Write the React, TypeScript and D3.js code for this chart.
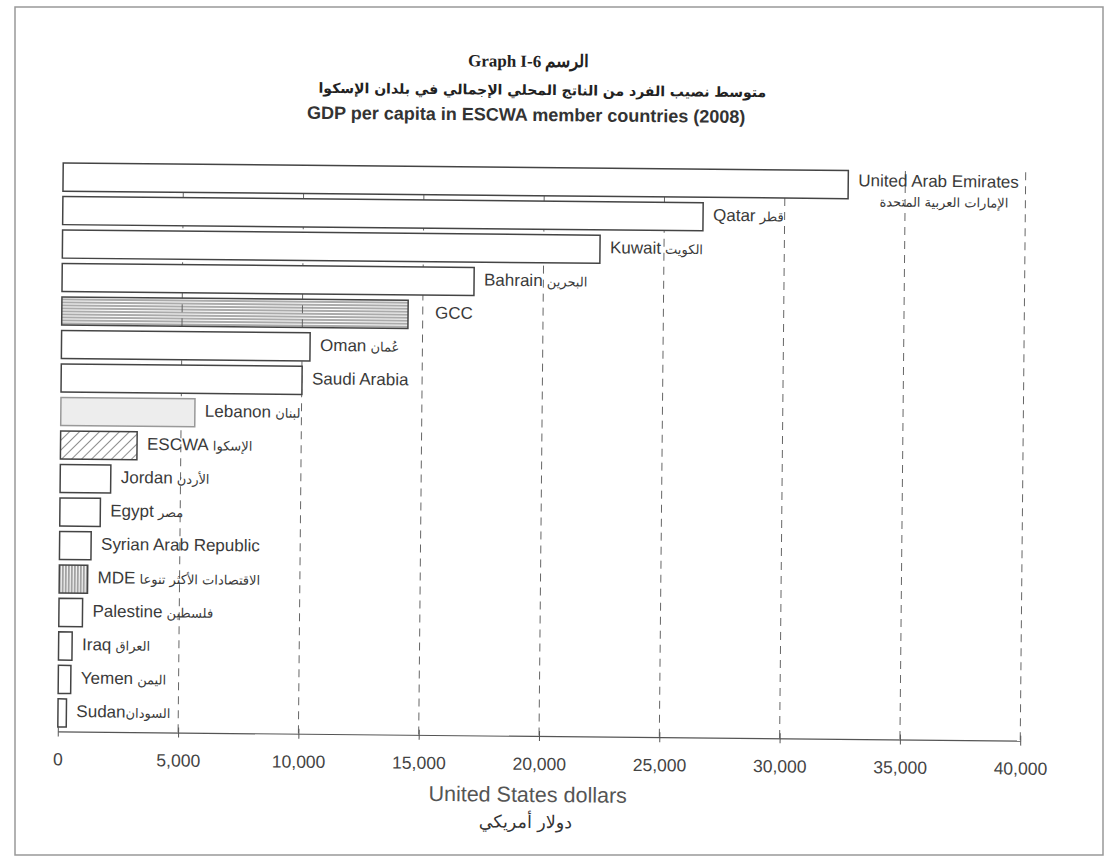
import React, { useEffect, useRef } from 'react';
import * as d3 from 'd3';

const countries = [
  'United Arab Emirates', 'Qatar', 'Kuwait', 'Bahrain', 'GCC', 'Oman', 'Saudi Arabia',
  'Lebanon', 'ESCWA', 'Jordan', 'Egypt', 'Syrian Arab Republic', 'MDE', 'Palestine',
  'Iraq', 'Yemen', 'Sudan',
];
const arabicNames = [
  'الإمارات العربية المتحدة', 'قطر', 'الكويت', 'البحرين', '', 'عُمان', '',
  'لبنان', 'الإسكوا', 'الأردن', 'مصر', '', 'الاقتصادات الأكثر تنوعا', 'فلسطين',
  'العراق', 'اليمن', 'السودان',
];
const gdpPerCapita = [
  32630, 26610, 22340, 17120, 14390, 10330, 10010,
  5570, 3180, 2100, 1680, 1310, 1180, 980,
  560, 520, 350,
];
const barPattern = [
  'none', 'none', 'none', 'none', 'horiz', 'none', 'none',
  'light', 'diag', 'none', 'none', 'none', 'vert', 'none',
  'none', 'none', 'none',
];
const xTicks = [0, 5000, 10000, 15000, 20000, 25000, 30000, 35000, 40000];

const W = 1106;
const H = 858;
const ink = '#3a3a3a';
const sans = '"Liberation Sans", Arial, sans-serif';
const arab = '"DejaVu Sans", "Noto Sans", sans-serif';

const App: React.FC = () => {
  const svgRef = useRef<SVGSVGElement | null>(null);

  useEffect(() => {
    if (!svgRef.current) return;
    const svg = d3.select(svgRef.current);
    svg.selectAll('*').remove();

    const margin = { top: 167.6, right: 83, bottom: 122, left: 60.5 };
    const axisY = H - margin.bottom;
    const x = d3.scaleLinear().domain([0, 40000]).range([margin.left, W - margin.right]);
    const y = d3.scaleBand<string>()
      .domain(countries)
      .range([margin.top, axisY - 4.4])
      .paddingInner(0.16)
      .paddingOuter(0);

    // patterns
    const defs = svg.append('defs');
    const horiz = defs.append('pattern').attr('id', 'p-horiz')
      .attr('patternUnits', 'userSpaceOnUse').attr('width', 6).attr('height', 3);
    horiz.append('line').attr('x1', 0).attr('x2', 6).attr('y1', 1).attr('y2', 1)
      .attr('stroke', '#555').attr('stroke-width', 1);
    const vert = defs.append('pattern').attr('id', 'p-vert')
      .attr('patternUnits', 'userSpaceOnUse').attr('width', 3).attr('height', 6);
    vert.append('line').attr('x1', 1).attr('x2', 1).attr('y1', 0).attr('y2', 6)
      .attr('stroke', '#444').attr('stroke-width', 1);
    const diag = defs.append('pattern').attr('id', 'p-diag')
      .attr('patternUnits', 'userSpaceOnUse').attr('width', 7).attr('height', 7)
      .attr('patternTransform', 'rotate(45)');
    diag.append('line').attr('x1', 0).attr('x2', 0).attr('y1', 0).attr('y2', 7)
      .attr('stroke', '#444').attr('stroke-width', 1.2);

    const fillFor = (p: string) => {
      if (p === 'horiz') return 'url(#p-horiz)';
      if (p === 'vert') return 'url(#p-vert)';
      if (p === 'diag') return 'url(#p-diag)';
      if (p === 'light') return '#ededed';
      return '#fff';
    };

    // page frame
    svg.append('rect').attr('x', 15).attr('y', 7).attr('width', 1088).attr('height', 848)
      .attr('fill', 'none').attr('stroke', '#999').attr('stroke-width', 1.5);

    // the scanned page is slightly tilted clockwise
    const page = svg.append('g').attr('transform', 'rotate(0.55, 540, 450)');

    // titles
    const title = page.append('g').attr('text-anchor', 'middle').attr('fill', '#222');
    title.append('text').attr('x', 525).attr('y', 67)
      .attr('font-family', '"Liberation Serif", "DejaVu Serif", serif')
      .attr('font-weight', 'bold').attr('font-size', 17)
      .text('Graph I-6 الرسم');
    title.append('text').attr('x', 539).attr('y', 95)
      .attr('font-family', arab)
      .attr('font-weight', 'bold').attr('font-size', 14)
      .text('متوسط نصيب الفرد من الناتج المحلي الإجمالي في بلدان الإسكوا');
    title.append('text').attr('x', 523).attr('y', 121)
      .attr('font-family', sans)
      .attr('font-weight', 'bold').attr('font-size', 18).attr('fill', '#333')
      .text('GDP per capita in ESCWA member countries (2008)');

    // dashed grid lines
    page.append('g').selectAll('line')
      .data(xTicks.filter(t => t > 0))
      .join('line')
      .attr('x1', d => x(d)).attr('x2', d => x(d))
      .attr('y1', margin.top).attr('y2', axisY)
      .attr('stroke', '#666').attr('stroke-width', 1).attr('stroke-dasharray', '8,6');

    // bars
    page.append('g').selectAll('rect')
      .data(countries)
      .join('rect')
      .attr('x', x(0))
      .attr('y', d => y(d)!)
      .attr('width', (_d, i) => x(gdpPerCapita[i]) - x(0))
      .attr('height', y.bandwidth())
      .attr('fill', (_d, i) => fillFor(barPattern[i]))
      .attr('stroke', (_d, i) => (barPattern[i] === 'light' ? '#999' : '#444'))
      .attr('stroke-width', 1.5);

    // labels
    const labels = page.append('g').attr('font-family', sans).attr('fill', ink);
    countries.forEach((c, i) => {
      const lx = x(gdpPerCapita[i]) + (c === 'GCC' ? 27 : 10);
      const cy = y(c)! + y.bandwidth() / 2;
      if (i === 0) {
        labels.append('text').attr('x', lx).attr('y', cy - 3)
          .attr('font-size', 17).attr('dominant-baseline', 'middle').text(c);
        labels.append('text').attr('x', 1006).attr('y', cy + 18)
          .attr('text-anchor', 'end').attr('font-size', 13)
          .attr('font-family', arab)
          .attr('dominant-baseline', 'middle').text(arabicNames[i]);
        return;
      }
      const t = labels.append('text').attr('x', lx).attr('y', cy)
        .attr('dominant-baseline', 'middle').attr('font-size', 17);
      t.append('tspan').text(c);
      if (arabicNames[i]) {
        t.append('tspan').attr('font-size', 13)
          .attr('font-family', arab)
          .text((c === 'Sudan' ? '' : ' ') + arabicNames[i]);
      }
    });

    // x axis
    const xAxis = page.append('g')
      .attr('transform', `translate(0,${axisY})`)
      .call(d3.axisBottom(x).tickValues(xTicks).tickSize(5).tickSizeOuter(0)
        .tickFormat(d => d3.format(',')(d as number)));
    xAxis.select('.domain').attr('stroke', '#555').attr('stroke-width', 1.2);
    xAxis.selectAll('.tick line').attr('stroke', '#555').attr('y1', -5);
    xAxis.selectAll('.tick text')
      .attr('y', 34).attr('dy', 0)
      .attr('font-family', sans)
      .attr('font-size', 17.5).attr('fill', '#444');

    page.append('text').attr('x', 531).attr('y', 802).attr('text-anchor', 'middle')
      .attr('font-family', sans)
      .attr('font-size', 21.5).attr('fill', '#555')
      .text('United States dollars');
    page.append('text').attr('x', 529).attr('y', 828).attr('text-anchor', 'middle')
      .attr('font-family', arab)
      .attr('font-size', 17.5).attr('fill', '#333')
      .text('دولار أمريكي');
  }, []);

  return (
    <svg
      ref={svgRef}
      width={W}
      height={H}
      style={{ position: 'absolute', left: 0, top: 0, background: '#fff' }}
    />
  );
};

export default App;
